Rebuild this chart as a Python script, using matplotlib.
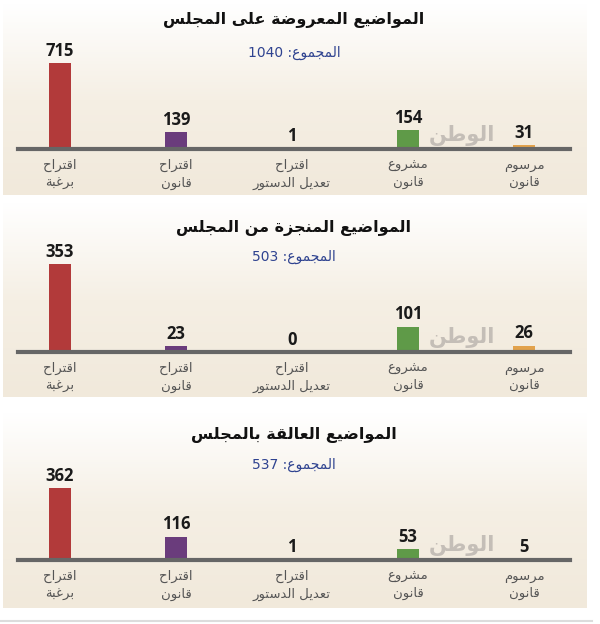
import re
import numpy as np
import matplotlib
matplotlib.use("Agg")
from matplotlib import pyplot as plt

categories = ["اقتراح\nبرغبة", "اقتراح\nقانون", "اقتراح\nتعديل الدستور", "مشروع\nقانون", "مرسوم\nقانون"]
bar_colors = ["#b23a3a", "#6a3c7c", "#d6d2cc", "#5f9a48", "#e2a24c"]

titles = ["المواضيع المعروضة على المجلس", "المواضيع المنجزة من المجلس", "المواضيع العالقة بالمجلس"]
totals = [1040, 503, 537]
presented = [715, 139, 1, 154, 31]
completed = [353, 23, 0, 101, 26]
pending = [362, 116, 1, 53, 5]
panels = [presented, completed, pending]

# arabic letters -> presentation forms (isolated, final, initial, medial)
FORMS = {
    'ا': (0xFE8D, 0xFE8E), 'ب': (0xFE8F, 0xFE90, 0xFE91, 0xFE92),
    'ة': (0xFE93, 0xFE94), 'ت': (0xFE95, 0xFE96, 0xFE97, 0xFE98),
    'ج': (0xFE9D, 0xFE9E, 0xFE9F, 0xFEA0), 'ح': (0xFEA1, 0xFEA2, 0xFEA3, 0xFEA4),
    'د': (0xFEA9, 0xFEAA), 'ر': (0xFEAD, 0xFEAE), 'ز': (0xFEAF, 0xFEB0),
    'س': (0xFEB1, 0xFEB2, 0xFEB3, 0xFEB4), 'ش': (0xFEB5, 0xFEB6, 0xFEB7, 0xFEB8),
    'ض': (0xFEBD, 0xFEBE, 0xFEBF, 0xFEC0), 'ط': (0xFEC1, 0xFEC2, 0xFEC3, 0xFEC4),
    'ع': (0xFEC9, 0xFECA, 0xFECB, 0xFECC), 'غ': (0xFECD, 0xFECE, 0xFECF, 0xFED0),
    'ق': (0xFED5, 0xFED6, 0xFED7, 0xFED8), 'ل': (0xFEDD, 0xFEDE, 0xFEDF, 0xFEE0),
    'م': (0xFEE1, 0xFEE2, 0xFEE3, 0xFEE4), 'ن': (0xFEE5, 0xFEE6, 0xFEE7, 0xFEE8),
    'و': (0xFEED, 0xFEEE), 'ى': (0xFEEF, 0xFEF0), 'ي': (0xFEF1, 0xFEF2, 0xFEF3, 0xFEF4),
}


def shape(text):
    out = []
    for i, c in enumerate(text):
        if c not in FORMS:
            out.append(c)
            continue
        f = FORMS[c]
        prev = text[i - 1] if i > 0 else ""
        nxt = text[i + 1] if i + 1 < len(text) else ""
        jp = prev in FORMS and len(FORMS[prev]) == 4
        jn = len(f) == 4 and nxt in FORMS
        if jp and jn:
            g = f[3]
        elif jp:
            g = f[1]
        elif jn:
            g = f[2]
        else:
            g = f[0]
        out.append(chr(g))
    return "".join(out)


def rtl(text):
    lines = []
    for line in text.split("\n"):
        tokens = re.findall(r"\d+|\D+", shape(line))
        lines.append("".join(t if t.isdigit() else t[::-1] for t in tokens[::-1]))
    return "\n".join(lines)


W, H = 600, 624
fig = plt.figure(figsize=(6, 6.24), dpi=100)
fig.patch.set_facecolor("white")

bg = fig.add_axes([0, 0, 1, 1], zorder=0)
bg.set_xlim(0, W)
bg.set_ylim(H, 0)
bg.axis("off")

# panel layout in pixels: (bg top, bg bottom, title y, total y, baseline y, max bar px)
layout = [(4, 195, 20, 53, 149, 86), (203, 397, 228, 257, 352, 88), (413, 608, 435, 465, 560, 72)]

grad = np.linspace(0, 1, 256)[:, None]
cmap = matplotlib.colors.LinearSegmentedColormap.from_list("bgc", ["#ffffff", "#f5efe4", "#f1e9db"])
for top, bot, *_ in layout:
    bg.imshow(grad, aspect="auto", cmap=cmap, extent=(3, 587, bot, top), zorder=0)
bg.plot([0, 592], [621, 621], color="#dcdcdc", lw=1.5)

ax_left, ax_right = 18, 570
x0, x1 = 60, 524
span = (4 * (ax_right - ax_left)) / (x1 - x0)
xmin = -(x0 - ax_left) / (ax_right - ax_left) * span
xpos = np.arange(len(categories))
bar_w = 22 / (ax_right - ax_left) * span

for (top, bot, ty, toty, base, barpx), vals, title, total in zip(layout, panels, titles, totals):
    axh = 100
    ax = fig.add_axes([ax_left / W, 1 - base / H, (ax_right - ax_left) / W, axh / H], zorder=2)
    ax.set_facecolor("none")
    ax.set_xlim(xmin, xmin + span)
    ax.set_ylim(0, max(vals) * axh / barpx)
    ax.bar(xpos, vals, width=bar_w, color=bar_colors, clip_on=False, zorder=2)
    ax.axhline(0, color="#666666", lw=3, zorder=3, clip_on=False)
    for s in ax.spines.values():
        s.set_visible(False)
    ax.set_xticks([])
    ax.set_yticks([])
    for x, v, c in zip(xpos, vals, categories):
        ax.annotate(str(v), (x, v), xytext=(0, 2.5), textcoords="offset points",
                    ha="center", va="bottom", fontsize=12, fontweight="bold",
                    family=["Open Sans", "DejaVu Sans"], color="#1a1a1a", annotation_clip=False)
        ax.annotate(rtl(c), (x, 0), xytext=(0, -7), textcoords="offset points",
                    ha="center", va="top", fontsize=9.5, color="#555555",
                    family="DejaVu Sans", linespacing=1.45, annotation_clip=False)
    fig.text(294 / W, 1 - ty / H, rtl(title), ha="center", va="center",
             fontsize=11.5, fontweight="bold", color="#111111", family="DejaVu Sans")
    fig.text(294 / W, 1 - toty / H, rtl("المجموع: " + str(total)), ha="center", va="center",
             fontsize=10, color="#2f4390", family="DejaVu Sans")
    # watermark
    fig.text(462 / W, 1 - (base - 14) / H, rtl("الوطن"), ha="center", va="center",
             fontsize=15, fontweight="bold", color="#b9b3ad", alpha=0.8,
             family="DejaVu Sans", zorder=1)

fig.savefig("out.png", dpi=100, facecolor="white")
